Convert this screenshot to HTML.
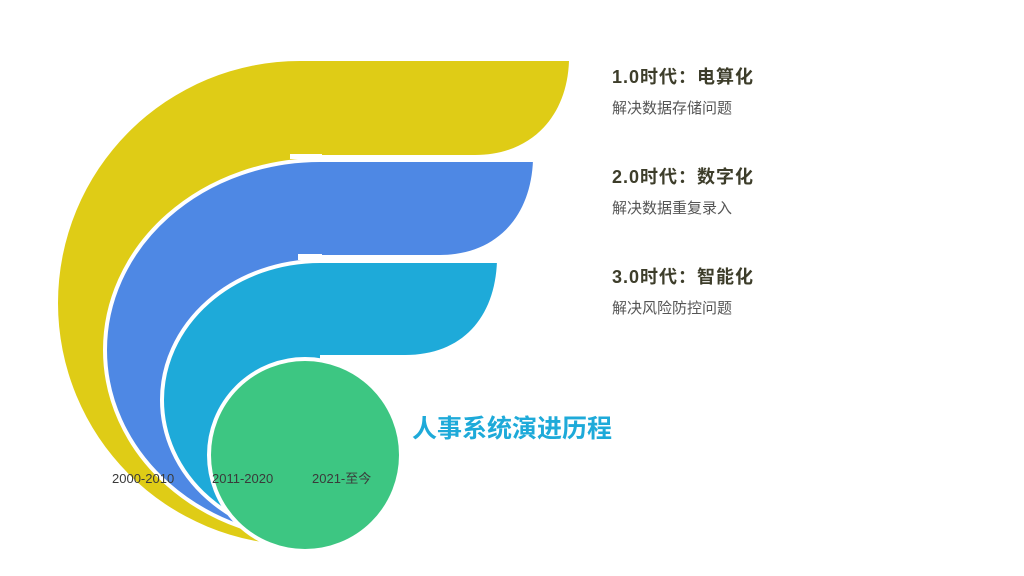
<!DOCTYPE html>
<html><head><meta charset="utf-8"><style>
body{margin:0;width:1024px;height:576px;background:#fff;overflow:hidden;font-family:"Liberation Sans","Noto Sans CJK SC",sans-serif}
svg{position:absolute;left:0;top:0}
</style></head><body>
<svg width="1024" height="576" viewBox="0 0 1024 576">
<path d="M300,545 A242,242 0 0 1 300,61 L569,61 C567,118 530,155 475,155 L300,155 Z" fill="#dfcc16"/>
<path d="M320,540 A215,190 0 0 1 320,160 L533,160 C531,218 495,255 440,255 L320,255 Z" fill="#4e88e4"/>
<rect x="290" y="154" width="32" height="5" fill="#fff"/>
<path d="M320,540 A215,190 0 0 1 320,160 L533,160" fill="none" stroke="#fff" stroke-width="4"/>
<path d="M320,539 A158,139 0 0 1 320,261 L497,261 C495,318 462,355 405,355 L320,355 Z" fill="#1eaad9"/>
<rect x="298" y="254" width="24" height="6" fill="#fff"/>
<path d="M320,539 A158,139 0 0 1 320,261 L497,261" fill="none" stroke="#fff" stroke-width="4"/>
<circle cx="305" cy="455" r="96" fill="#3dc682" stroke="#fff" stroke-width="4"/>
<g font-size="13" fill="#3a3a3a">
<text x="112" y="483">2000-2010</text>
<text x="212" y="483">2011-2020</text>
<text x="312" y="483">2021-至今</text>
</g>
<text x="412" y="437" font-size="25" font-weight="bold" fill="#1eaad9">人事系统演进历程</text>
<g font-size="18" font-weight="bold" fill="#3d3d2a" letter-spacing="1">
<text x="612" y="83">1.0时代：电算化</text>
<text x="612" y="183">2.0时代：数字化</text>
<text x="612" y="283">3.0时代：智能化</text>
</g>
<g font-size="15" fill="#555">
<text x="612" y="113">解决数据存储问题</text>
<text x="612" y="213">解决数据重复录入</text>
<text x="612" y="313">解决风险防控问题</text>
</g>
</svg>
</body></html>
